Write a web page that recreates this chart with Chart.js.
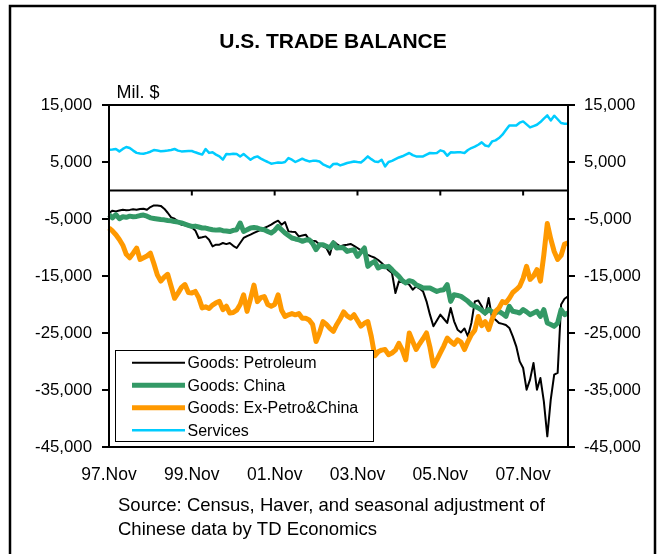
<!DOCTYPE html>
<html>
<head>
<meta charset="utf-8">
<title>U.S. Trade Balance</title>
<script src="https://cdn.jsdelivr.net/npm/chart.js@4.4.1/dist/chart.umd.min.js"></script>
<style>
  html, body { margin: 0; padding: 0; background: #fff; }
  canvas { display: block; }
</style>
</head>
<body>
<canvas id="tradeChart" width="665" height="554"></canvas>
<script>
// monthly data, Nov 1997 - Dec 2008, mil. $
const monthNames = ['Jan','Feb','Mar','Apr','May','Jun','Jul','Aug','Sep','Oct','Nov','Dec'];
const categories = [];
for (let i = 0; i < 134; i++) {
    const m = 10 + i;
    const yy = String((1997 + Math.floor(m / 12)) % 100).padStart(2, '0');
    categories.push(yy + '.' + monthNames[m % 12]);
}
const tickLabels = ['97.Nov', '99.Nov', '01.Nov', '03.Nov', '05.Nov', '07.Nov'];
const yTicks = [15000, 5000, -5000, -15000, -25000, -35000, -45000];

const petroleum = [
    -3950, -3540, -3660, -3500, -3370, -3450, -3400, -3300, -3370, -3250, -3190, -3370,
    -2900, -2610, -2650, -2700, -3190, -3900, -4720, -4950, -5400, -6000, -6100, -6300,
    -6500, -7000, -8330, -8200, -8050, -8630, -9800, -9510, -9500, -9210, -9400, -9210,
    -9700, -10090, -9210, -8330, -8000, -7750, -7450, -7170, -6900, -6580, -6300, -6000,
    -5600, -5300, -6000, -5530, -7170, -7250, -7300, -8050, -7900, -7750, -8630, -8800,
    -8920, -9510, -9800, -10090, -11260, -8920, -9400, -9800, -9600, -9500, -9380, -9700,
    -10090, -10500, -11000, -11300, -11560, -11800, -12200, -12720, -13310, -14000, -14470, -17980,
    -15940, -16100, -16300, -16520, -17400, -16820, -17200, -17700, -19450, -21780, -23830, -22800,
    -21780, -22500, -23240, -20610, -22960, -24420, -24900, -24200, -25590, -23240, -19450, -19300,
    -20300, -21780, -18860, -22370, -22660, -23240, -23400, -23600, -24120, -25590, -27340, -29980,
    -31140, -34940, -33180, -30260, -34940, -32890, -36990, -43130, -36690, -32310, -32000, -20000,
    -19000, -18570
];
const china = [
    -4240, -4800, -4250, -4950, -4600, -4700, -4500, -4600, -4550, -4400, -4300, -4500,
    -4800, -4900, -5000, -5100, -5150, -5250, -5300, -5450, -5550, -5700, -5900, -6100,
    -6300, -6250, -6400, -6580, -6600, -6750, -6880, -6950, -6880, -7050, -7100, -7200,
    -7000, -6880, -5700, -7170, -6900, -6580, -6500, -6580, -6800, -6880, -7200, -7460,
    -7000, -6300, -6880, -7460, -7900, -8330, -8500, -8630, -8920, -8700, -8630, -9300,
    -10380, -9510, -9510, -9800, -10090, -9210, -10090, -10000, -10090, -10680, -10500, -10380,
    -11560, -10800, -10090, -13310, -12800, -12440, -13600, -13300, -13400, -13310, -13890, -14500,
    -15070, -15800, -16230, -15820, -16000, -16520, -16800, -17100, -17100, -17100, -17400, -17700,
    -17500, -17400, -16520, -19450, -18280, -18400, -18570, -19000, -19450, -20030, -20300, -20610,
    -21000, -21490, -20900, -21300, -21490, -21200, -21600, -22080, -20330, -21200, -21300, -21490,
    -20900, -21300, -21780, -21500, -21200, -22080, -20900, -23240, -23500, -23830, -23240, -20900,
    -21780, -21490
];
const exPetroChina = [
    -6580, -7100, -7750, -8600, -9600, -11200, -11800, -11000, -10100, -12100, -11800, -11500,
    -11000, -12800, -14800, -15900, -15200, -14700, -16800, -18900, -18000, -17000, -16500, -17900,
    -18000, -17700, -18800, -20600, -20400, -20700, -20100, -19700, -19450, -20900, -20300, -21500,
    -21400, -21000, -20000, -18300, -21200, -19000, -16600, -19500, -18800, -18600, -20000, -20300,
    -20000, -18300, -21000, -22100, -21800, -21600, -21800, -21600, -22400, -22400, -22700, -23500,
    -26500, -25000, -23000, -23500, -24200, -24700, -23500, -22500, -21300, -22000, -22400, -21800,
    -22800, -23800, -23300, -23000, -25600, -29000, -28300, -28000, -27900, -28800, -28500, -28000,
    -26800, -28000, -29700, -25000, -26500, -27900, -26900, -26000, -25000, -27500, -30800, -29700,
    -28500, -27300, -25900, -26500, -27000, -26200, -26600, -27900, -26500, -25300, -24500, -22100,
    -23700, -23000, -24400, -22600, -21200, -20600, -19500, -19700, -18900, -17900, -17400, -16800,
    -15400, -13300, -15600, -15000, -13900, -15900, -11300, -5800, -8500, -10700, -12100, -11400,
    -9400, -9200
];
const services = [
    7150, 7200, 7280, 6860, 7300, 7630, 7450, 7000, 6600, 6500, 6450, 6600,
    6800, 7100, 7000, 6900, 6950, 7000, 7100, 7280, 7000, 6860, 6900, 6950,
    6930, 6700, 6500, 6300, 7280, 6600, 6700, 6300, 6000, 5400, 6400, 6350,
    6450, 6400, 5980, 6400, 5900, 5400, 5800, 5980, 5600, 5280, 5000, 4700,
    4800, 4900, 4850, 5000, 5700, 5400, 5000, 5300, 5580, 5300, 5100, 5200,
    5230, 5100, 4600, 4300, 4050, 4650, 4700, 4400, 4600, 4820, 4950, 5100,
    5000, 4930, 5400, 5980, 5500, 5100, 5000, 5400, 4230, 5000, 5200, 5500,
    5800, 6000, 6300, 6580, 6200, 5980, 5950, 5980, 6300, 6580, 6550, 6580,
    7040, 6860, 6100, 6690, 6650, 6700, 6690, 6580, 7100, 7450, 7700, 8030,
    8440, 7900, 7740, 8610, 8800, 9200, 9790, 10600, 11420, 11400, 11420, 11900,
    12120, 11600, 11070, 11300, 11540, 12000, 12600, 13170, 12300, 13120, 12500, 11840,
    11720, 11700
];

const FONT = "'Liberation Sans', Arial, sans-serif";

// frame, zero line, legend box and the free texts
const extras = {
    id: 'extras',
    afterDraw(chart) {
        const { ctx, chartArea: a, scales } = chart;
        ctx.save();
        ctx.strokeStyle = '#000';

        // zero line with the month ticks hanging from it
        const y0 = scales.y.getPixelForValue(0);
        ctx.lineWidth = 2;
        ctx.beginPath();
        ctx.moveTo(a.left, y0);
        ctx.lineTo(a.right, y0);
        categories.forEach((c, i) => {
            if (tickLabels.includes(c)) {
                const x = scales.x.getPixelForValue(i);
                ctx.moveTo(x, y0);
                ctx.lineTo(x, y0 + 5);
            }
        });
        ctx.stroke();
        ctx.strokeRect(a.left, a.top, a.right - a.left, a.bottom - a.top);

        // outer frame
        ctx.lineWidth = 2.5;
        ctx.strokeRect(10, 6, 645, 600);

        // legend
        ctx.fillStyle = '#fff';
        ctx.fillRect(115, 350, 258, 91);
        ctx.lineWidth = 1;
        ctx.strokeRect(115.5, 350.5, 258, 91);
        ctx.font = '16px ' + FONT;
        ctx.textAlign = 'left';
        ctx.textBaseline = 'middle';
        chart.data.datasets.forEach((ds, i) => {
            const y = 362.7 + i * 22.5;
            ctx.strokeStyle = ds.borderColor;
            ctx.lineWidth = ds.borderWidth;
            ctx.beginPath();
            ctx.moveTo(132, y);
            ctx.lineTo(185, y);
            ctx.stroke();
            ctx.fillStyle = '#000';
            ctx.fillText(ds.label, 187.5, y + 1);
        });

        // texts
        ctx.fillStyle = '#000';
        ctx.font = '18px ' + FONT;
        ctx.fillText('Mil. $', 116.5, 93);
        ctx.font = '18.5px ' + FONT;
        ctx.fillText('Source: Census, Haver, and seasonal adjustment of', 118, 506);
        ctx.fillText('Chinese data by TD Economics', 118, 530);
        ctx.font = 'bold 21px ' + FONT;
        ctx.textAlign = 'center';
        ctx.fillText('U.S. TRADE BALANCE', 333, 42);
        ctx.restore();
    }
};

const yAxis = (side, width, pad) => ({
    position: side,
    min: -45000,
    max: 15000,
    afterBuildTicks: s => { s.ticks = yTicks.map(v => ({ value: v })); },
    afterFit: s => { s.width = width; },
    ticks: {
        padding: pad,
        color: '#000',
        font: { family: FONT, size: 16.8 },
        callback: v => v.toLocaleString('en-US')
    },
    grid: { drawOnChartArea: false, tickLength: 7, color: '#000', lineWidth: 2 },
    border: { display: false }
});

new Chart(document.getElementById('tradeChart'), {
    type: 'line',
    data: {
        labels: categories,
        datasets: [
            { label: 'Goods: Petroleum', data: petroleum, borderColor: '#000000', borderWidth: 2, order: 4 },
            { label: 'Goods: China', data: china, borderColor: '#339966', borderWidth: 5, order: 3 },
            { label: 'Goods: Ex-Petro&China', data: exPetroChina, borderColor: '#FF9900', borderWidth: 5, order: 2 },
            { label: 'Services', data: services, borderColor: '#00CCFF', borderWidth: 2.5, order: 1 }
        ]
    },
    options: {
        responsive: false,
        animation: false,
        layout: { padding: { top: 105, left: 0, right: 0, bottom: 0 } },
        elements: { point: { radius: 0 }, line: { tension: 0, borderJoinStyle: 'round' } },
        plugins: { legend: { display: false }, tooltip: { enabled: false } },
        scales: {
            x: {
                afterFit: s => { s.height = 107; },
                grid: { display: false, drawTicks: false },
                border: { display: false },
                ticks: {
                    autoSkip: false,
                    maxRotation: 0,
                    padding: 18,
                    color: '#000',
                    font: { family: FONT, size: 17.5 },
                    callback: (v, i) => tickLabels.includes(categories[i]) ? categories[i] : ''
                }
            },
            y: yAxis('left', 109, 10),
            y2: yAxis('right', 97, 9)
        }
    },
    plugins: [extras]
});
</script>
</body>
</html>
